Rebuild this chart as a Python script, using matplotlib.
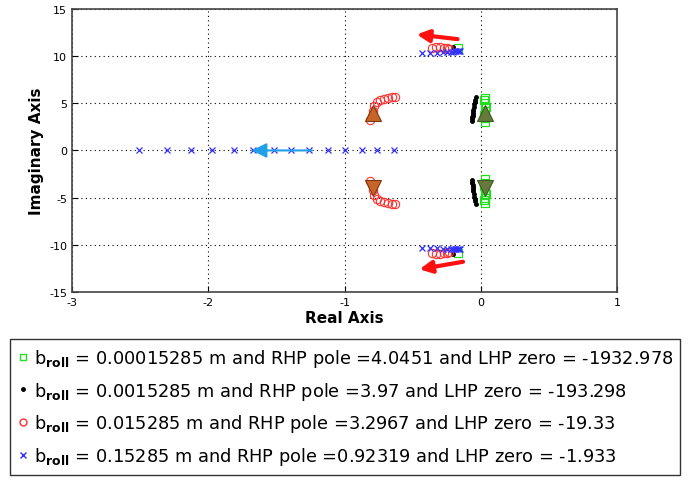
import numpy as np
import matplotlib.pyplot as plt
from matplotlib.lines import Line2D

plt.rcParams['font.family'] = ['DejaVu Sans']
plt.rcParams['mathtext.fontset'] = 'dejavusans'
plt.rcParams['axes.unicode_minus'] = False

# legend labels
b_values = ['0.00015285', '0.0015285', '0.015285', '0.15285']
rhp_poles = ['4.0451', '3.97', '3.2967', '0.92319']
lhp_zeros = ['-1932.978', '-193.298', '-19.33', '-1.933']

# upper-half roots for each b_roll (lower half is the mirror)
green_re = [0.03, 0.03, 0.025, 0.03, 0.035, 0.03, 0.025, 0.03, -0.17]
green_im = [3.0, 3.4, 3.8, 4.2, 4.6, 5.0, 5.3, 5.6, 10.9]

black_re = [-0.066, -0.064, -0.062, -0.06, -0.058, -0.056, -0.054, -0.05, -0.047,
            -0.044, -0.041, -0.038, -0.2]
black_im = [3.1, 3.3, 3.5, 3.7, 3.9, 4.1, 4.3, 4.6, 4.9, 5.1, 5.4, 5.7, 11.0]

red_re = [-0.81, -0.80, -0.79, -0.78, -0.76, -0.74, -0.71, -0.68, -0.65, -0.63,
          -0.36, -0.33, -0.30, -0.27, -0.25, -0.23]
red_im = [3.2, 3.7, 4.2, 4.7, 5.1, 5.35, 5.5, 5.6, 5.7, 5.7,
          10.9, 11.0, 11.0, 10.9, 10.85, 10.8]

blue_top_re = [-0.43, -0.37, -0.32, -0.28, -0.25, -0.22, -0.20, -0.19, -0.18,
               -0.17, -0.16, -0.15]
blue_top_im = [10.35, 10.35, 10.35, 10.4, 10.4, 10.45, 10.45, 10.5, 10.5, 10.5,
               10.5, 10.5]
blue_axis_re = [-2.51, -2.30, -2.13, -1.97, -1.81, -1.67, -1.52, -1.39, -1.26,
                -1.12, -1.00, -0.87, -0.76, -0.64]

# direction markers / arrows
tri_re = [-0.79, 0.03]
tri_im = [4.0, 4.0]
tri_colors = ['#c8642a', '#667a3c']
tri_edges = ['#7a3a10', '#3f5a20']
red_arrows = [((-0.17, 11.8), (-0.47, 12.3)), ((-0.13, -11.8), (-0.45, -12.6))]
blue_arrow = ((-1.24, 0.0), (-1.68, 0.0))

fig = plt.figure(figsize=(6.89, 4.85), dpi=100)
ax = fig.add_axes([0.1045, 0.396, 0.791, 0.5835])

green = '#22dd22'
red = '#ff3030'
blue = '#3030ff'

def both(re, im):
    return list(re) + list(re), list(im) + [-v for v in im]

gx, gy = both(green_re, green_im)
ax.plot(gx, gy, 's', ms=6, mfc='none', mec=green, mew=0.9, ls='none')
kx, ky = both(black_re, black_im)
ax.plot(kx, ky, '.', ms=5, color='black', ls='none')
rx, ry = both(red_re, red_im)
ax.plot(rx, ry, 'o', ms=6, mfc='none', mec=red, mew=0.8, ls='none')
bx, by = both(blue_top_re, blue_top_im)
ax.plot(bx + blue_axis_re, by + [0] * len(blue_axis_re), 'x', ms=5, color=blue,
        mew=0.9, ls='none')

for x, y, c, e in zip(tri_re, tri_im, tri_colors, tri_edges):
    ax.plot(x, y, '^', ms=11, color=c, mec=e, mew=0.8)
    ax.plot(x, -y, 'v', ms=11, color=c, mec=e, mew=0.8)

for start, end in red_arrows:
    ax.annotate('', xy=end, xytext=start,
                arrowprops=dict(arrowstyle='-|>', color='#ff1010', lw=3, mutation_scale=18,
                                shrinkA=0, shrinkB=0))
ax.annotate('', xy=blue_arrow[1], xytext=blue_arrow[0],
            arrowprops=dict(arrowstyle='-|>', color='#20a0e8', lw=1.5, mutation_scale=22,
                            shrinkA=0, shrinkB=0))

ax.set_xlim(-3, 1)
ax.set_ylim(-15, 15)
ax.set_xticks([-3, -2, -1, 0, 1])
ax.set_yticks([-15, -10, -5, 0, 5, 10, 15])
ax.tick_params(direction='in', labelsize=8, length=4, width=0.8)
ax.grid(True, ls=(0, (1, 3)), color='black', lw=0.8)
for s in ax.spines.values():
    s.set_color('#444444')
    s.set_linewidth(1.2)
ax.set_xlabel('Real Axis', fontsize=11, fontweight='bold', labelpad=2)
ax.set_ylabel('Imaginary Axis', fontsize=11, fontweight='bold', labelpad=4)

handles = [
    Line2D([], [], marker='s', ms=5, mfc='none', mec=green, ls='none'),
    Line2D([], [], marker='.', ms=5, color='black', ls='none'),
    Line2D([], [], marker='o', ms=5, mfc='none', mec=red, ls='none'),
    Line2D([], [], marker='x', ms=5, color=blue, ls='none'),
]
labels = [r'b$_{\mathbf{roll}}$ = %s m and RHP pole =%s and LHP zero = %s' % (b, p, z)
          for b, p, z in zip(b_values, rhp_poles, lhp_zeros)]
leg = fig.legend(handles, labels, loc='upper left',
                 bbox_to_anchor=(10 / 689, 2 / 485, 670 / 689, 143 / 485),
                 mode='expand', fontsize=12.8, frameon=True, fancybox=False,
                 edgecolor='black', handlelength=0.6, handletextpad=0.3,
                 labelspacing=0.6, borderpad=0.45, borderaxespad=0)
leg.get_frame().set_linewidth(1.0)

fig.savefig('out.png', dpi=100)
